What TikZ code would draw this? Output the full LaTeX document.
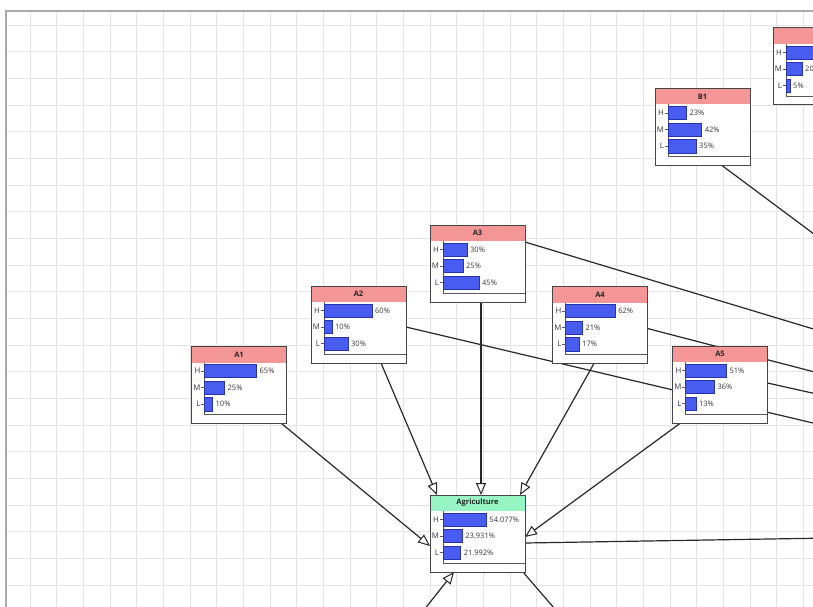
\documentclass[tikz,border=0pt]{standalone}
\usepackage{fontspec}
\setmainfont{Open Sans}
\usetikzlibrary{arrows.meta,calc}
\pgfdeclarelayer{gridl}
\pgfdeclarelayer{edges}
\pgfsetlayers{gridl,edges,main}
\definecolor{nodepink}{RGB}{245,150,150}
\definecolor{nodegreen}{RGB}{150,245,195}
\definecolor{barblue}{RGB}{72,92,240}
\definecolor{barline}{RGB}{40,50,170}
\definecolor{gridc}{RGB}{228,228,228}
\definecolor{framec}{RGB}{170,170,170}
\definecolor{edgec}{RGB}{40,40,40}
\definecolor{txtc}{RGB}{55,55,55}
\definecolor{boxc}{RGB}{70,70,70}
\tikzset{
 bnbox/.style={draw=boxc, line width=1pt, fill=white, minimum width=95pt, minimum height=77pt, anchor=north west, inner sep=0pt, outer sep=0pt},
 bntitle/.style={font=\fontsize{7.5}{9}\selectfont\bfseries, text=black!85, inner sep=0pt},
 bnlab/.style={font=\fontsize{7.8}{9}\selectfont, text=txtc, inner sep=0pt, anchor=east},
 bnpct/.style={font=\fontsize{7.5}{9}\selectfont, text=txtc, inner sep=0pt, anchor=west},
 bnbar/.style={fill=barblue, draw=barline, line width=0.5pt},
 bnaxis/.style={draw=gray!70!black, line width=0.6pt},
 link/.style={draw=edgec, line width=1.2pt},
 arr/.style={link, -{Triangle[open, length=12pt, width=10pt, line width=1pt]}},
}
\newcommand{\bnrow}[5]{%
 \draw[bnbar] ($(#1.north west)+(13,#5-6.7)$) rectangle ($(#1.north west)+(13+0.8*#4,#5+6.7)$);
 \node[bnlab] (#1-#2l) at ($(#1.north west)+(9,#5)$) {#3};
 \draw[bnaxis] ($(#1.north west)+(9.5,#5)$) -- ++(3.5,0);
 \node[bnpct] (#1-#2p) at ($(#1.north west)+(16+0.8*#4,#5)$) {#4\%};
}
\newcommand{\bnnode}[8]{%
 \node[bnbox] (#1) at (#2,#3) {};
 \fill[#5] ($(#1.north west)+(0.5,0.5)$) rectangle ($(#1.north east)+(-0.5,16)$);
 \node[bntitle] (#1-t) at ($(#1.north)+(0,8)$) {#4};
 \draw[bnaxis] ($(#1.north west)+(13,16)$) -- ($(#1.north west)+(13,68)$) -- ($(#1.north east)+(0,68)$);
 \bnrow{#1}{h}{H}{#6}{24.5}
 \bnrow{#1}{m}{M}{#7}{41}
 \bnrow{#1}{l}{L}{#8}{57.6}
 \draw[draw=boxc, line width=1pt] (#1.north west) rectangle (#1.south east);
}
\begin{document}
\begin{tikzpicture}[x=1pt,y=-1pt]
\useasboundingbox (0,0) rectangle (813,607);
\clip (0,0) rectangle (813,607);
\begin{pgfonlayer}{gridl}
 \fill[white] (0,0) rectangle (813,607);
 \begin{scope}
  \clip (6,11) rectangle (813,607);
  \foreach \i in {1,...,31} \draw[gridc, line width=0.8pt] (3.33+26.67*\i, 11) -- ++(0,600);
  \foreach \j in {0,...,22} \draw[gridc, line width=0.8pt] (6, 25+26.67*\j) -- ++(810,0);
 \end{scope}
 \draw[framec, line width=1.2pt] (6,607) -- (6,11) -- (813,11);
\end{pgfonlayer}

\bnnode{A1}{191.5}{346.5}{A1}{nodepink}{65}{25}{10}
\bnnode{A2}{311}{286}{A2}{nodepink}{60}{10}{30}
\bnnode{A3}{430}{225}{A3}{nodepink}{30}{25}{45}
\bnnode{A4}{552.5}{286.5}{A4}{nodepink}{62}{21}{17}
\bnnode{A5}{672.5}{346}{A5}{nodepink}{51}{36}{13}
\bnnode{Agri}{430}{495}{Agriculture}{nodegreen}{54.077}{23.931}{21.992}
\bnnode{B1}{655}{88.5}{B1}{nodepink}{23}{42}{35}
\bnnode{B2}{773}{28}{}{nodepink}{75}{20}{5}

\coordinate (R1) at (830,246);
\coordinate (R2) at (830,334);
\coordinate (R3) at (830,376);
\coordinate (R4) at (830,397);
\coordinate (R5) at (830,427);
\coordinate (R6) at (830,538);
\coordinate (D1) at (420,615);
\coordinate (D2) at (560,615);

\begin{pgfonlayer}{edges}
 \draw[arr] ($(A1.south east)+(-5,0)$) -- ($(Agri.north west)+(0,51)$);
 \draw[arr] ($(A2.south west)+(70,0)$) -- ($(Agri.north west)+(7,0)$);
 \draw[arr] ($(A3.south west)+(51,0)$) -- ($(Agri.north west)+(51,0)$);
 \draw[arr] ($(A4.south west)+(41.5,0)$) -- ($(Agri.north west)+(90,0)$);
 \draw[arr] ($(A5.south west)+(8,0)$) -- ($(Agri.north east)+(0,42)$);
 \draw[arr] (D1) -- ($(Agri.south west)+(24,0)$);
 \draw[link] ($(Agri.north east)+(0,48)$) -- (R6);
 \draw[link] ($(Agri.south west)+(93,0)$) -- (D2);
 \draw[link] ($(B1.south west)+(67,0)$) -- (R1);
 \draw[link] ($(A3.north east)+(0,17)$) -- (R2);
 \draw[link] ($(A4.north east)+(0,42)$) -- (R3);
 \draw[link] ($(A5.north east)+(0,37)$) -- (R4);
 \draw[link] ($(A2.north east)+(0,41)$) -- (R5);
\end{pgfonlayer}
\end{tikzpicture}
\end{document}
